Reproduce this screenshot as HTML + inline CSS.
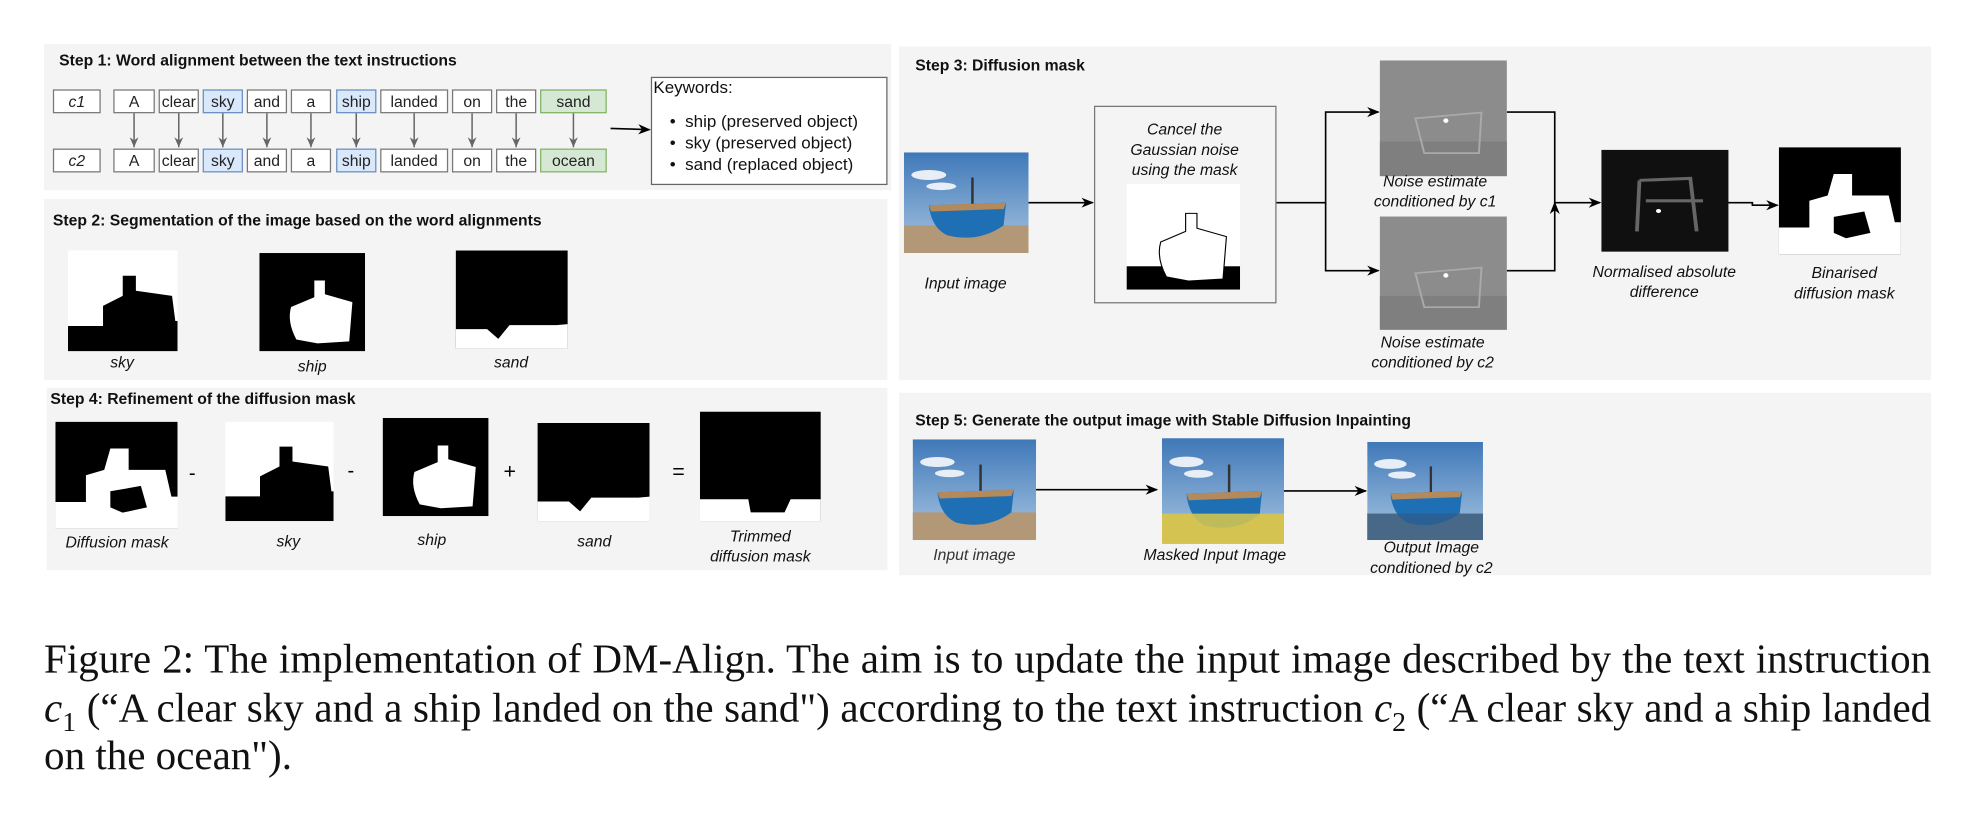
<!DOCTYPE html>
<html><head><meta charset="utf-8"><style>
html,body{margin:0;padding:0;background:#fff;}
body{width:1974px;height:827px;overflow:hidden;position:relative;}
#c{position:absolute;left:0;top:0;width:1568px;height:657px;transform:scale(1.2589);transform-origin:0 0;font-family:"Liberation Sans",Arial,sans-serif;}
.a{position:absolute;}
.panel{position:absolute;background:#f4f4f4;}
.t{position:absolute;font-weight:bold;font-size:12.5px;color:#111;white-space:nowrap;}
.w{position:absolute;height:19px;border:1px solid #777;background:#fff;font-size:12.5px;text-align:center;line-height:19px;color:#222;box-sizing:border-box;}
.b{background:#dae8fc;border-color:#6c8ebf;}
.g{background:#d5e8d4;border-color:#82b366;}
.lab{position:absolute;font-style:italic;font-size:12.5px;color:#111;text-align:center;line-height:16px;white-space:nowrap;transform:translateX(-50%);}
.cap{position:absolute;left:35px;width:1499px;font-family:"Liberation Serif",serif;font-size:32.6px;color:#111;white-space:nowrap;text-align:justify;text-align-last:justify;}
svg{position:absolute;overflow:visible;}
</style></head><body><div id="c">
<svg width="0" height="0" style="position:absolute">
<defs>
<symbol id="photo" viewBox="0 0 100 80" preserveAspectRatio="none">
<defs><linearGradient id="sk" x1="0" y1="0" x2="0" y2="1"><stop offset="0" stop-color="#3f78b8"/><stop offset="1" stop-color="#a9c6e2"/></linearGradient></defs>
<rect width="100" height="80" fill="url(#sk)"/>
<ellipse cx="20" cy="18" rx="14" ry="4" fill="#e8eef5"/><ellipse cx="30" cy="27" rx="12" ry="3" fill="#e8eef5"/>
<rect x="0" y="58" width="100" height="22" fill="#b39878"/>
<rect x="54" y="20" width="2" height="22" fill="#333"/>
<path d="M20 42 L82 40 L80 58 Q60 72 35 66 Q22 60 20 42Z" fill="#1f6fb5"/>
<path d="M20 42 L82 40 L80 45 L22 47Z" fill="#b48a5a"/>
</symbol>
<symbol id="skym" viewBox="0 0 100 100" preserveAspectRatio="none">
<rect width="100" height="100" fill="#fff"/>
<path d="M0 75 L32 75 L32 55 L50 45 L50 25 L62 25 L62 40 L95 45 L98 70 L100 70 L100 100 L0 100Z" fill="#000"/>
</symbol>
<symbol id="shipm" viewBox="0 0 100 100" preserveAspectRatio="none">
<rect width="100" height="100" fill="#000"/>
<path d="M30 55 L52 45 L52 28 L62 28 L62 42 L88 50 L85 90 L55 92 L35 88 Q26 70 30 55Z" fill="#fff"/>
</symbol>
<symbol id="sandm" viewBox="0 0 100 100" preserveAspectRatio="none">
<rect width="100" height="100" fill="#000"/>
<path d="M0 80 L28 80 L38 90 L48 76 L90 76 L100 75 L100 100 L0 100Z" fill="#fff"/>
</symbol>
<symbol id="diffm" viewBox="0 0 100 100" preserveAspectRatio="none">
<rect width="100" height="100" fill="#000"/>
<path d="M0 75 L25 75 L25 50 L40 45 L45 25 L60 25 L60 45 L90 45 L95 70 L100 70 L100 100 L0 100Z" fill="#fff"/>
<path d="M45 65 L70 60 L75 80 L55 85 L45 80Z" fill="#000"/>
</symbol>
<symbol id="trim" viewBox="0 0 100 100" preserveAspectRatio="none">
<rect width="100" height="100" fill="#000"/>
<path d="M0 80 L40 80 L42 92 L70 92 L75 80 L100 80 L100 100 L0 100Z" fill="#fff"/>
</symbol>
<symbol id="noise" viewBox="0 0 100 100" preserveAspectRatio="none">
<rect width="100" height="100" fill="#8c8c8c"/>
<rect y="70" width="100" height="30" fill="#7f7f7f"/>
<path d="M28 50 L80 45 L78 80 L35 80Z" fill="none" stroke="#aaa" stroke-width="1.5"/>
<circle cx="52" cy="52" r="2" fill="#fff"/>
</symbol>
<symbol id="absd" viewBox="0 0 100 100" preserveAspectRatio="none">
<rect width="100" height="100" fill="#101010"/>
<path d="M30 30 L70 28 L75 80 M30 30 L28 80 M35 50 L80 50" fill="none" stroke="#666" stroke-width="3"/>
<circle cx="45" cy="60" r="2" fill="#fff"/>
</symbol>
<marker id="ar" markerWidth="10" markerHeight="10" refX="9" refY="5" orient="auto" markerUnits="userSpaceOnUse"><path d="M0 1 L10 5 L0 9 L3 5Z" fill="#000"/></marker>
<marker id="arg" markerWidth="9" markerHeight="9" refX="8" refY="4.5" orient="auto" markerUnits="userSpaceOnUse"><path d="M0 1 L8 4.5 L0 8 L2.5 4.5Z" fill="#666"/></marker>
</defs></svg>

<div class="panel" style="left:35px;top:35px;width:673px;height:116px"></div>
<div class="panel" style="left:35px;top:158px;width:670px;height:144px"></div>
<div class="panel" style="left:37px;top:308px;width:668px;height:145px"></div>
<div class="panel" style="left:714px;top:37px;width:820px;height:265px"></div>
<div class="panel" style="left:714px;top:312px;width:820px;height:145px"></div>

<div class="t" style="left:47px;top:41px">Step 1: Word alignment between the text instructions</div>
<div class="w" style="left:42px;top:71px;width:38px;font-style:italic">c1</div>
<div class="w" style="left:42px;top:118px;width:38px;font-style:italic">c2</div>
<div class="w" style="left:90px;top:71px;width:33px">A</div>
<div class="w" style="left:126px;top:71px;width:32px">clear</div>
<div class="w b" style="left:161px;top:71px;width:32px">sky</div>
<div class="w" style="left:196px;top:71px;width:32px">and</div>
<div class="w" style="left:231px;top:71px;width:32px">a</div>
<div class="w b" style="left:267px;top:71px;width:32px">ship</div>
<div class="w" style="left:302px;top:71px;width:54px">landed</div>
<div class="w" style="left:359px;top:71px;width:32px">on</div>
<div class="w" style="left:394px;top:71px;width:32px">the</div>
<div class="w g" style="left:429px;top:71px;width:53px">sand</div>
<div class="w" style="left:90px;top:118px;width:33px">A</div>
<div class="w" style="left:126px;top:118px;width:32px">clear</div>
<div class="w b" style="left:161px;top:118px;width:32px">sky</div>
<div class="w" style="left:196px;top:118px;width:32px">and</div>
<div class="w" style="left:231px;top:118px;width:32px">a</div>
<div class="w b" style="left:267px;top:118px;width:32px">ship</div>
<div class="w" style="left:302px;top:118px;width:54px">landed</div>
<div class="w" style="left:359px;top:118px;width:32px">on</div>
<div class="w" style="left:394px;top:118px;width:32px">the</div>
<div class="w g" style="left:429px;top:118px;width:53px">ocean</div>
<svg style="left:0;top:0" width="1568" height="657">
<g stroke="#666" stroke-width="1.2" marker-end="url(#arg)">
<line x1="106.5" y1="90" x2="106.5" y2="117"/><line x1="142" y1="90" x2="142" y2="117"/>
<line x1="177" y1="90" x2="177" y2="117"/><line x1="212" y1="90" x2="212" y2="117"/>
<line x1="247" y1="90" x2="247" y2="117"/><line x1="283" y1="90" x2="283" y2="117"/>
<line x1="329" y1="90" x2="329" y2="117"/><line x1="375" y1="90" x2="375" y2="117"/>
<line x1="410" y1="90" x2="410" y2="117"/><line x1="455.5" y1="90" x2="455.5" y2="117"/>
</g>
<g stroke="#000" stroke-width="1.3" fill="none" marker-end="url(#ar)">
<line x1="485" y1="102" x2="516" y2="103"/>
<line x1="817" y1="161" x2="868" y2="161"/>
<polyline points="1013,161 1053,161 1053,89 1095,89"/>
<polyline points="1053,161 1053,215 1095,215"/>
<polyline points="1197,89 1235,89 1235,161 1271,161"/>
<polyline points="1197,215 1235,215 1235,161"/>
<polyline points="1373,161 1392,161 1392,163 1412,163"/>
<line x1="823" y1="389" x2="919" y2="389"/>
<line x1="1010" y1="390" x2="1085" y2="390"/>
</g>
</svg>
<div class="a" style="left:517px;top:61px;width:186px;height:84px;border:1px solid #666;background:#fff;font-size:13.5px;color:#111">
<div style="position:absolute;left:1px;top:0">Keywords:</div>
<div style="position:absolute;left:14px;top:26px;line-height:17px;white-space:nowrap">• &nbsp;ship (preserved object)<br>• &nbsp;sky (preserved object)<br>• &nbsp;sand (replaced object)</div>
</div>

<div class="t" style="left:42px;top:168px">Step 2: Segmentation of the image based on the word alignments</div>
<svg style="left:54px;top:199px" width="87" height="80"><use href="#skym" width="87" height="80"/></svg>
<svg style="left:206px;top:201px" width="84" height="78"><use href="#shipm" width="84" height="78"/></svg>
<svg style="left:362px;top:199px" width="89" height="78"><use href="#sandm" width="89" height="78"/></svg>
<div class="lab" style="left:97px;top:280px">sky</div>
<div class="lab" style="left:248px;top:283px">ship</div>
<div class="lab" style="left:406px;top:280px">sand</div>

<div class="t" style="left:40px;top:310px">Step 4: Refinement of the diffusion mask</div>
<svg style="left:44px;top:335px" width="97" height="85"><use href="#diffm" width="97" height="85"/></svg>
<div class="a" style="left:150px;top:368px;font-size:16px">-</div>
<svg style="left:179px;top:335px" width="86" height="79"><use href="#skym" width="86" height="79"/></svg>
<div class="a" style="left:276px;top:366px;font-size:16px">-</div>
<svg style="left:304px;top:332px" width="84" height="78"><use href="#shipm" width="84" height="78"/></svg>
<div class="a" style="left:400px;top:365px;font-size:17px">+</div>
<svg style="left:427px;top:336px" width="89" height="78"><use href="#sandm" width="89" height="78"/></svg>
<div class="a" style="left:534px;top:365px;font-size:17px">=</div>
<svg style="left:556px;top:327px" width="96" height="87"><use href="#trim" width="96" height="87"/></svg>
<div class="lab" style="left:93px;top:423px">Diffusion mask</div>
<div class="lab" style="left:229px;top:422px">sky</div>
<div class="lab" style="left:343px;top:421px">ship</div>
<div class="lab" style="left:472px;top:422px">sand</div>
<div class="lab" style="left:604px;top:418px">Trimmed<br>diffusion mask</div>

<div class="t" style="left:727px;top:45px">Step 3: Diffusion mask</div>
<svg style="left:718px;top:121px" width="99" height="80"><use href="#photo" width="99" height="80"/></svg>
<div class="lab" style="left:767px;top:217px">Input image</div>
<div class="a" style="left:869px;top:84px;width:143px;height:155px;border:1px solid #777;background:#f4f4f4"></div>
<div class="lab" style="left:941px;top:95px">Cancel the<br>Gaussian noise<br>using the mask</div>
<svg style="left:895px;top:146px" width="90" height="84" viewBox="0 0 100 100" preserveAspectRatio="none">
<rect width="100" height="100" fill="#fff"/>
<rect y="78" width="100" height="22" fill="#000"/>
<path d="M30 55 L52 45 L52 28 L62 28 L62 42 L88 50 L85 90 L55 92 L35 88 Q26 70 30 55Z" fill="#fff" stroke="#000" stroke-width="1"/>
</svg>
<svg style="left:1096px;top:48px" width="101" height="92"><use href="#noise" width="101" height="92"/></svg>
<svg style="left:1096px;top:172px" width="101" height="90"><use href="#noise" width="101" height="90"/></svg>
<div class="lab" style="left:1140px;top:136px">Noise estimate<br>conditioned by c1</div>
<div class="lab" style="left:1138px;top:264px">Noise estimate<br>conditioned by c2</div>
<svg style="left:1272px;top:119px" width="101" height="81"><use href="#absd" width="101" height="81"/></svg>
<div class="lab" style="left:1322px;top:208px">Normalised absolute<br>difference</div>
<svg style="left:1413px;top:117px" width="97" height="85"><use href="#diffm" width="97" height="85"/></svg>
<div class="lab" style="left:1465px;top:209px">Binarised<br>diffusion mask</div>

<div class="t" style="left:727px;top:327px">Step 5: Generate the output image with Stable Diffusion Inpainting</div>
<svg style="left:725px;top:349px" width="98" height="80"><use href="#photo" width="98" height="80"/></svg>
<div class="a" style="left:923px;top:348px;width:97px;height:84px;overflow:hidden">
<svg style="left:0;top:0" width="97" height="84"><use href="#photo" width="97" height="84"/></svg>
<div class="a" style="left:0;top:60px;width:97px;height:24px;background:#d9c94a;opacity:.85"></div>
</div>
<div class="a" style="left:1086px;top:351px;width:92px;height:78px;overflow:hidden">
<svg style="left:0;top:0" width="92" height="78"><use href="#photo" width="92" height="78"/></svg>
<div class="a" style="left:0;top:57px;width:92px;height:21px;background:#2d5d8c;opacity:.8"></div>
</div>
<div class="lab" style="left:774px;top:433px;color:#333">Input image</div>
<div class="lab" style="left:965px;top:433px">Masked Input Image</div>
<div class="lab" style="left:1137px;top:427px">Output Image<br>conditioned by c2</div>

<div class="cap" style="top:506px">Figure 2: The implementation of DM-Align. The aim is to update the input image described by the text instruction</div>
<div class="cap" style="top:545px"><i>c</i><sub style="font-size:22px">1</sub> (“A clear sky and a ship landed on the sand") according to the text instruction <i>c</i><sub style="font-size:22px">2</sub> (“A clear sky and a ship landed</div>
<div class="cap" style="top:583px;text-align-last:left">on the ocean").</div>
</div></body></html>
